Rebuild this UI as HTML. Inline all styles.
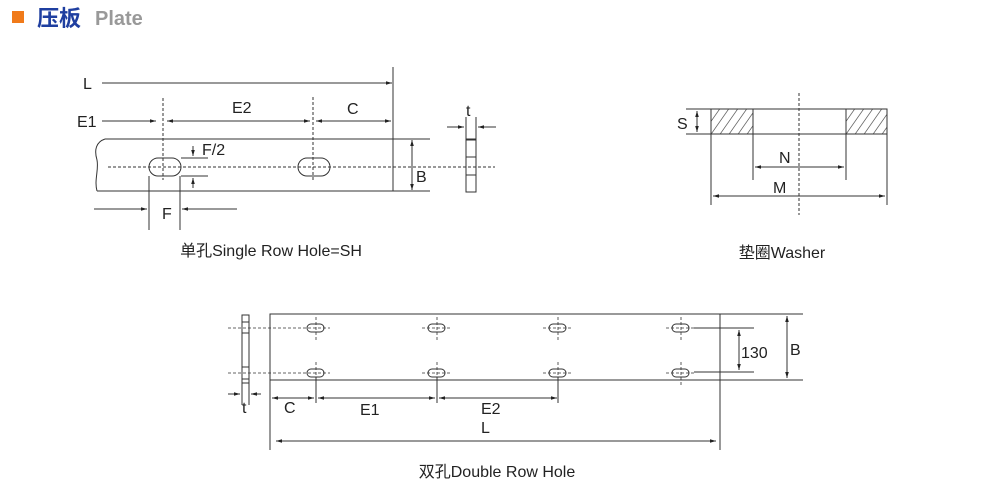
<!DOCTYPE html>
<html><head><meta charset="utf-8"><style>
html,body{margin:0;padding:0;background:#fff}
svg{display:block}
text{font-family:"Liberation Sans","Noto Sans CJK SC",sans-serif;fill:#222}
</style></head><body>
<svg width="1000" height="498" viewBox="0 0 1000 498" xmlns="http://www.w3.org/2000/svg">
<defs>
<marker id="a" viewBox="0 0 10 10" refX="10" refY="5" markerWidth="6" markerHeight="6" orient="auto-start-reverse"><path d="M0,2 L10,5 L0,8 z" fill="#222"/></marker>
<pattern id="h" width="9" height="25" patternUnits="userSpaceOnUse" patternTransform="skewX(-35)"><line x1="4" y1="0" x2="4" y2="25" stroke="#444" stroke-width="0.8"/></pattern>
</defs>
<rect x="12" y="11" width="12" height="12" fill="#f07a1a"/>
<text x="37" y="26" font-size="22" font-weight="bold" style="fill:#1f3fa0">压板</text>
<text x="95" y="25" font-size="20" font-weight="bold" style="fill:#999">Plate</text>

<g stroke="#333" stroke-width="1" fill="none">
<line x1="102" y1="83" x2="392" y2="83" marker-end="url(#a)"/>
<line x1="393" y1="67" x2="393" y2="191"/>
<line x1="102" y1="121" x2="156" y2="121" marker-end="url(#a)"/>
<line x1="167" y1="121" x2="310" y2="121" marker-start="url(#a)" marker-end="url(#a)"/>
<line x1="316" y1="121" x2="391" y2="121" marker-start="url(#a)" marker-end="url(#a)"/>
<line x1="163" y1="98" x2="163" y2="180" stroke-dasharray="3,2"/>
<line x1="313" y1="97" x2="313" y2="180" stroke-dasharray="3,2"/>
<path d="M105,139 L430,139 M97,191 L430,191 M105,139 C96,142 94,150 97,160 C99,170 94,180 97,191"/>
<line x1="108" y1="167" x2="495" y2="167" stroke-dasharray="3,2"/>
<rect x="149" y="158" width="32" height="18" rx="9"/>
<rect x="298" y="158" width="32" height="18" rx="9"/>
<line x1="181" y1="158" x2="208" y2="158"/>
<line x1="181" y1="176" x2="208" y2="176"/>
<line x1="193" y1="146" x2="193" y2="156" marker-end="url(#a)"/>
<line x1="193" y1="188" x2="193" y2="178" marker-end="url(#a)"/>
<line x1="149" y1="176" x2="149" y2="230"/>
<line x1="180" y1="176" x2="180" y2="230"/>
<line x1="94" y1="209" x2="147" y2="209" marker-end="url(#a)"/>
<line x1="237" y1="209" x2="182" y2="209" marker-end="url(#a)"/>
<line x1="412" y1="140" x2="412" y2="190" marker-start="url(#a)" marker-end="url(#a)"/>
<rect x="466" y="139" width="10" height="53"/>
<line x1="466" y1="140" x2="476" y2="140"/>
<line x1="466" y1="157" x2="476" y2="157"/>
<line x1="466" y1="175" x2="476" y2="175"/>
<line x1="466" y1="117" x2="466" y2="139"/>
<line x1="476" y1="117" x2="476" y2="139"/>
<line x1="447" y1="127" x2="464" y2="127" marker-end="url(#a)"/>
<line x1="496" y1="127" x2="478" y2="127" marker-end="url(#a)"/>

<rect x="711" y="109" width="42" height="25" fill="url(#h)"/>
<rect x="846" y="109" width="41" height="25" fill="url(#h)"/>
<path d="M711,109 H887 V134 H711 Z M753,109 V180 M846,109 V180 M711,134 V205 M887,134 V205 M686,109 H711 M686,134 H711"/>
<line x1="799" y1="93" x2="799" y2="215" stroke-dasharray="3,2"/>
<line x1="755" y1="167" x2="844" y2="167" marker-start="url(#a)" marker-end="url(#a)"/>
<line x1="713" y1="196" x2="885" y2="196" marker-start="url(#a)" marker-end="url(#a)"/>
<line x1="697" y1="111" x2="697" y2="132" marker-start="url(#a)" marker-end="url(#a)"/>

<rect x="270" y="314" width="450" height="66"/>
<line x1="270" y1="380" x2="270" y2="450"/>
<line x1="720" y1="380" x2="720" y2="450"/>
<rect x="242" y="315" width="7" height="68"/>
<path d="M242,322 H249 M242,333 H249 M242,367 H249 M242,379 H249 M242,383 V405 M249,383 V405"/>
<g stroke-dasharray="3,2" stroke-width="0.8">
<line x1="228" y1="328" x2="330" y2="328"/><line x1="228" y1="373" x2="330" y2="373"/>
<line x1="422" y1="328" x2="452" y2="328"/><line x1="422" y1="373" x2="452" y2="373"/>
<line x1="543" y1="328" x2="573" y2="328"/><line x1="543" y1="373" x2="573" y2="373"/>
<line x1="666" y1="328" x2="694" y2="328"/><line x1="666" y1="373" x2="694" y2="373"/>
<line x1="316" y1="317" x2="316" y2="340"/><line x1="316" y1="362" x2="316" y2="385"/>
<line x1="437" y1="317" x2="437" y2="340"/><line x1="437" y1="362" x2="437" y2="385"/>
<line x1="558" y1="317" x2="558" y2="340"/><line x1="558" y1="362" x2="558" y2="385"/>
<line x1="681" y1="317" x2="681" y2="340"/><line x1="681" y1="362" x2="681" y2="385"/>
</g>
<rect x="307" y="324" width="17" height="8" rx="4"/><rect x="307" y="369" width="17" height="8" rx="4"/>
<rect x="428" y="324" width="17" height="8" rx="4"/><rect x="428" y="369" width="17" height="8" rx="4"/>
<rect x="549" y="324" width="17" height="8" rx="4"/><rect x="549" y="369" width="17" height="8" rx="4"/>
<rect x="672" y="324" width="17" height="8" rx="4"/><rect x="672" y="369" width="17" height="8" rx="4"/>
<path d="M316,377 V403 M437,377 V403 M558,377 V403"/>
<line x1="272" y1="398" x2="314" y2="398" marker-start="url(#a)" marker-end="url(#a)"/>
<line x1="318" y1="398" x2="435" y2="398" marker-start="url(#a)" marker-end="url(#a)"/>
<line x1="439" y1="398" x2="557" y2="398" marker-end="url(#a)" marker-start="url(#a)"/>
<line x1="228" y1="394" x2="240" y2="394" marker-end="url(#a)"/>
<line x1="261" y1="394" x2="251" y2="394" marker-end="url(#a)"/>
<line x1="276" y1="441" x2="716" y2="441" marker-start="url(#a)" marker-end="url(#a)"/>
<path d="M694,328 H754 M694,372 H754 M720,314 H803 M720,380 H803"/>
<line x1="739" y1="330" x2="739" y2="370" marker-start="url(#a)" marker-end="url(#a)"/>
<line x1="787" y1="316" x2="787" y2="378" marker-start="url(#a)" marker-end="url(#a)"/>
</g>

<g font-size="16">
<text x="83" y="89">L</text>
<text x="77" y="127">E1</text>
<text x="232" y="113">E2</text>
<text x="347" y="114">C</text>
<text x="202" y="155">F/2</text>
<text x="162" y="219">F</text>
<text x="416" y="182">B</text>
<text x="466" y="116">t</text>
<text x="271" y="256" text-anchor="middle">单孔Single Row Hole=SH</text>
<text x="677" y="129">S</text>
<text x="779" y="163">N</text>
<text x="773" y="193">M</text>
<text x="782" y="258" text-anchor="middle">垫圈Washer</text>
<text x="741" y="358">130</text>
<text x="790" y="355">B</text>
<text x="242" y="413">t</text>
<text x="284" y="413">C</text>
<text x="360" y="415">E1</text>
<text x="481" y="414">E2</text>
<text x="481" y="433">L</text>
<text x="497" y="477" text-anchor="middle">双孔Double Row Hole</text>
</g>
</svg>
</body></html>
